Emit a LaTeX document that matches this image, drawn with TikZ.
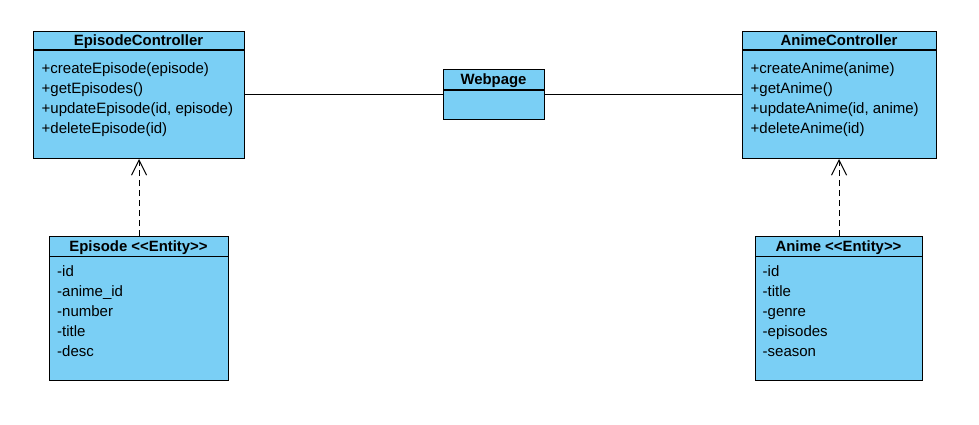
\documentclass[tikz,border=0pt]{standalone}
\usepackage{fontspec}
\setmainfont{Liberation Sans}
\usetikzlibrary{arrows.meta}
\definecolor{umlfill}{RGB}{122,207,245}
\begin{document}
\begin{tikzpicture}[x=1pt,y=-1pt,
  box/.style={draw=black, fill=umlfill, line width=1.1pt, inner sep=0pt, anchor=north west},
  titletext/.style={font=\fontsize{14.9}{20}\selectfont\bfseries, inner sep=0pt, anchor=base},
  memtext/.style={font=\fontsize{15}{20}\selectfont, inner sep=0pt, anchor=base west},
  assoc/.style={draw=black, line width=1pt},
  dep/.style={draw=black, line width=1pt, dash pattern=on 6pt off 4pt, -{Straight Barb[length=15pt,width=15pt,line width=1pt]}}
]
\useasboundingbox[fill=white] (0,0) rectangle (979,425);

% EpisodeController
\node[box, minimum width=211pt, minimum height=127pt] (ec) at (33,31) {};
\draw[line width=1.1pt] ([yshift=-19pt]ec.north west) -- ([yshift=-19pt]ec.north east);
\node[titletext] (ect) at (138.5,45.8) {EpisodeController};
\node[memtext] (ec1) at (41.5,73.3) {+createEpisode(episode)};
\node[memtext] (ec2) at (41.5,93.3) {+getEpisodes()};
\node[memtext] (ec3) at (41.5,113.3) {+updateEpisode(id, episode)};
\node[memtext] (ec4) at (41.5,133.3) {+deleteEpisode(id)};

% Webpage
\node[box, minimum width=101pt, minimum height=50pt] (wp) at (443,69) {};
\draw[line width=1.1pt] ([yshift=-21pt]wp.north west) -- ([yshift=-21pt]wp.north east);
\node[titletext] (wpt) at (493.5,84.8) {Webpage};

% AnimeController
\node[box, minimum width=194pt, minimum height=127pt] (ac) at (742,31) {};
\draw[line width=1.1pt] ([yshift=-19pt]ac.north west) -- ([yshift=-19pt]ac.north east);
\node[titletext] (act) at (839,45.8) {AnimeController};
\node[memtext] (ac1) at (750.5,73.3) {+createAnime(anime)};
\node[memtext] (ac2) at (750.5,93.3) {+getAnime()};
\node[memtext] (ac3) at (750.5,113.3) {+updateAnime(id, anime)};
\node[memtext] (ac4) at (750.5,133.3) {+deleteAnime(id)};

% Episode entity
\node[box, minimum width=179pt, minimum height=144pt] (ee) at (49,236) {};
\draw[line width=1.1pt] ([yshift=-20.5pt]ee.north west) -- ([yshift=-20.5pt]ee.north east);
\node[titletext] (eet) at (138.5,251.3) {Episode <{}<Entity>{}>};
\node[memtext] (ee1) at (57,276.8) {-id};
\node[memtext] (ee2) at (57,296.8) {-anime\_id};
\node[memtext] (ee3) at (57,316.8) {-number};
\node[memtext] (ee4) at (57,336.8) {-title};
\node[memtext] (ee5) at (57,356.8) {-desc};

% Anime entity
\node[box, minimum width=167pt, minimum height=144pt] (ae) at (755,236) {};
\draw[line width=1.1pt] ([yshift=-20.5pt]ae.north west) -- ([yshift=-20.5pt]ae.north east);
\node[titletext] (aet) at (838.5,251.3) {Anime <{}<Entity>{}>};
\node[memtext] (ae1) at (762.5,276.8) {-id};
\node[memtext] (ae2) at (762.5,296.8) {-title};
\node[memtext] (ae3) at (762.5,316.8) {-genre};
\node[memtext] (ae4) at (762.5,336.8) {-episodes};
\node[memtext] (ae5) at (762.5,356.8) {-season};

% Associations
\draw[assoc] (ec.east |- 0,94.5) -- (wp.west |- 0,94.5);
\draw[assoc] (wp.east |- 0,94.5) -- (ac.west |- 0,94.5);

% Dependencies
\draw[dep] (ee.north) -- (ee.north |- ec.south);
\draw[dep] (ae.north) -- (ae.north |- ac.south);
\end{tikzpicture}
\end{document}
